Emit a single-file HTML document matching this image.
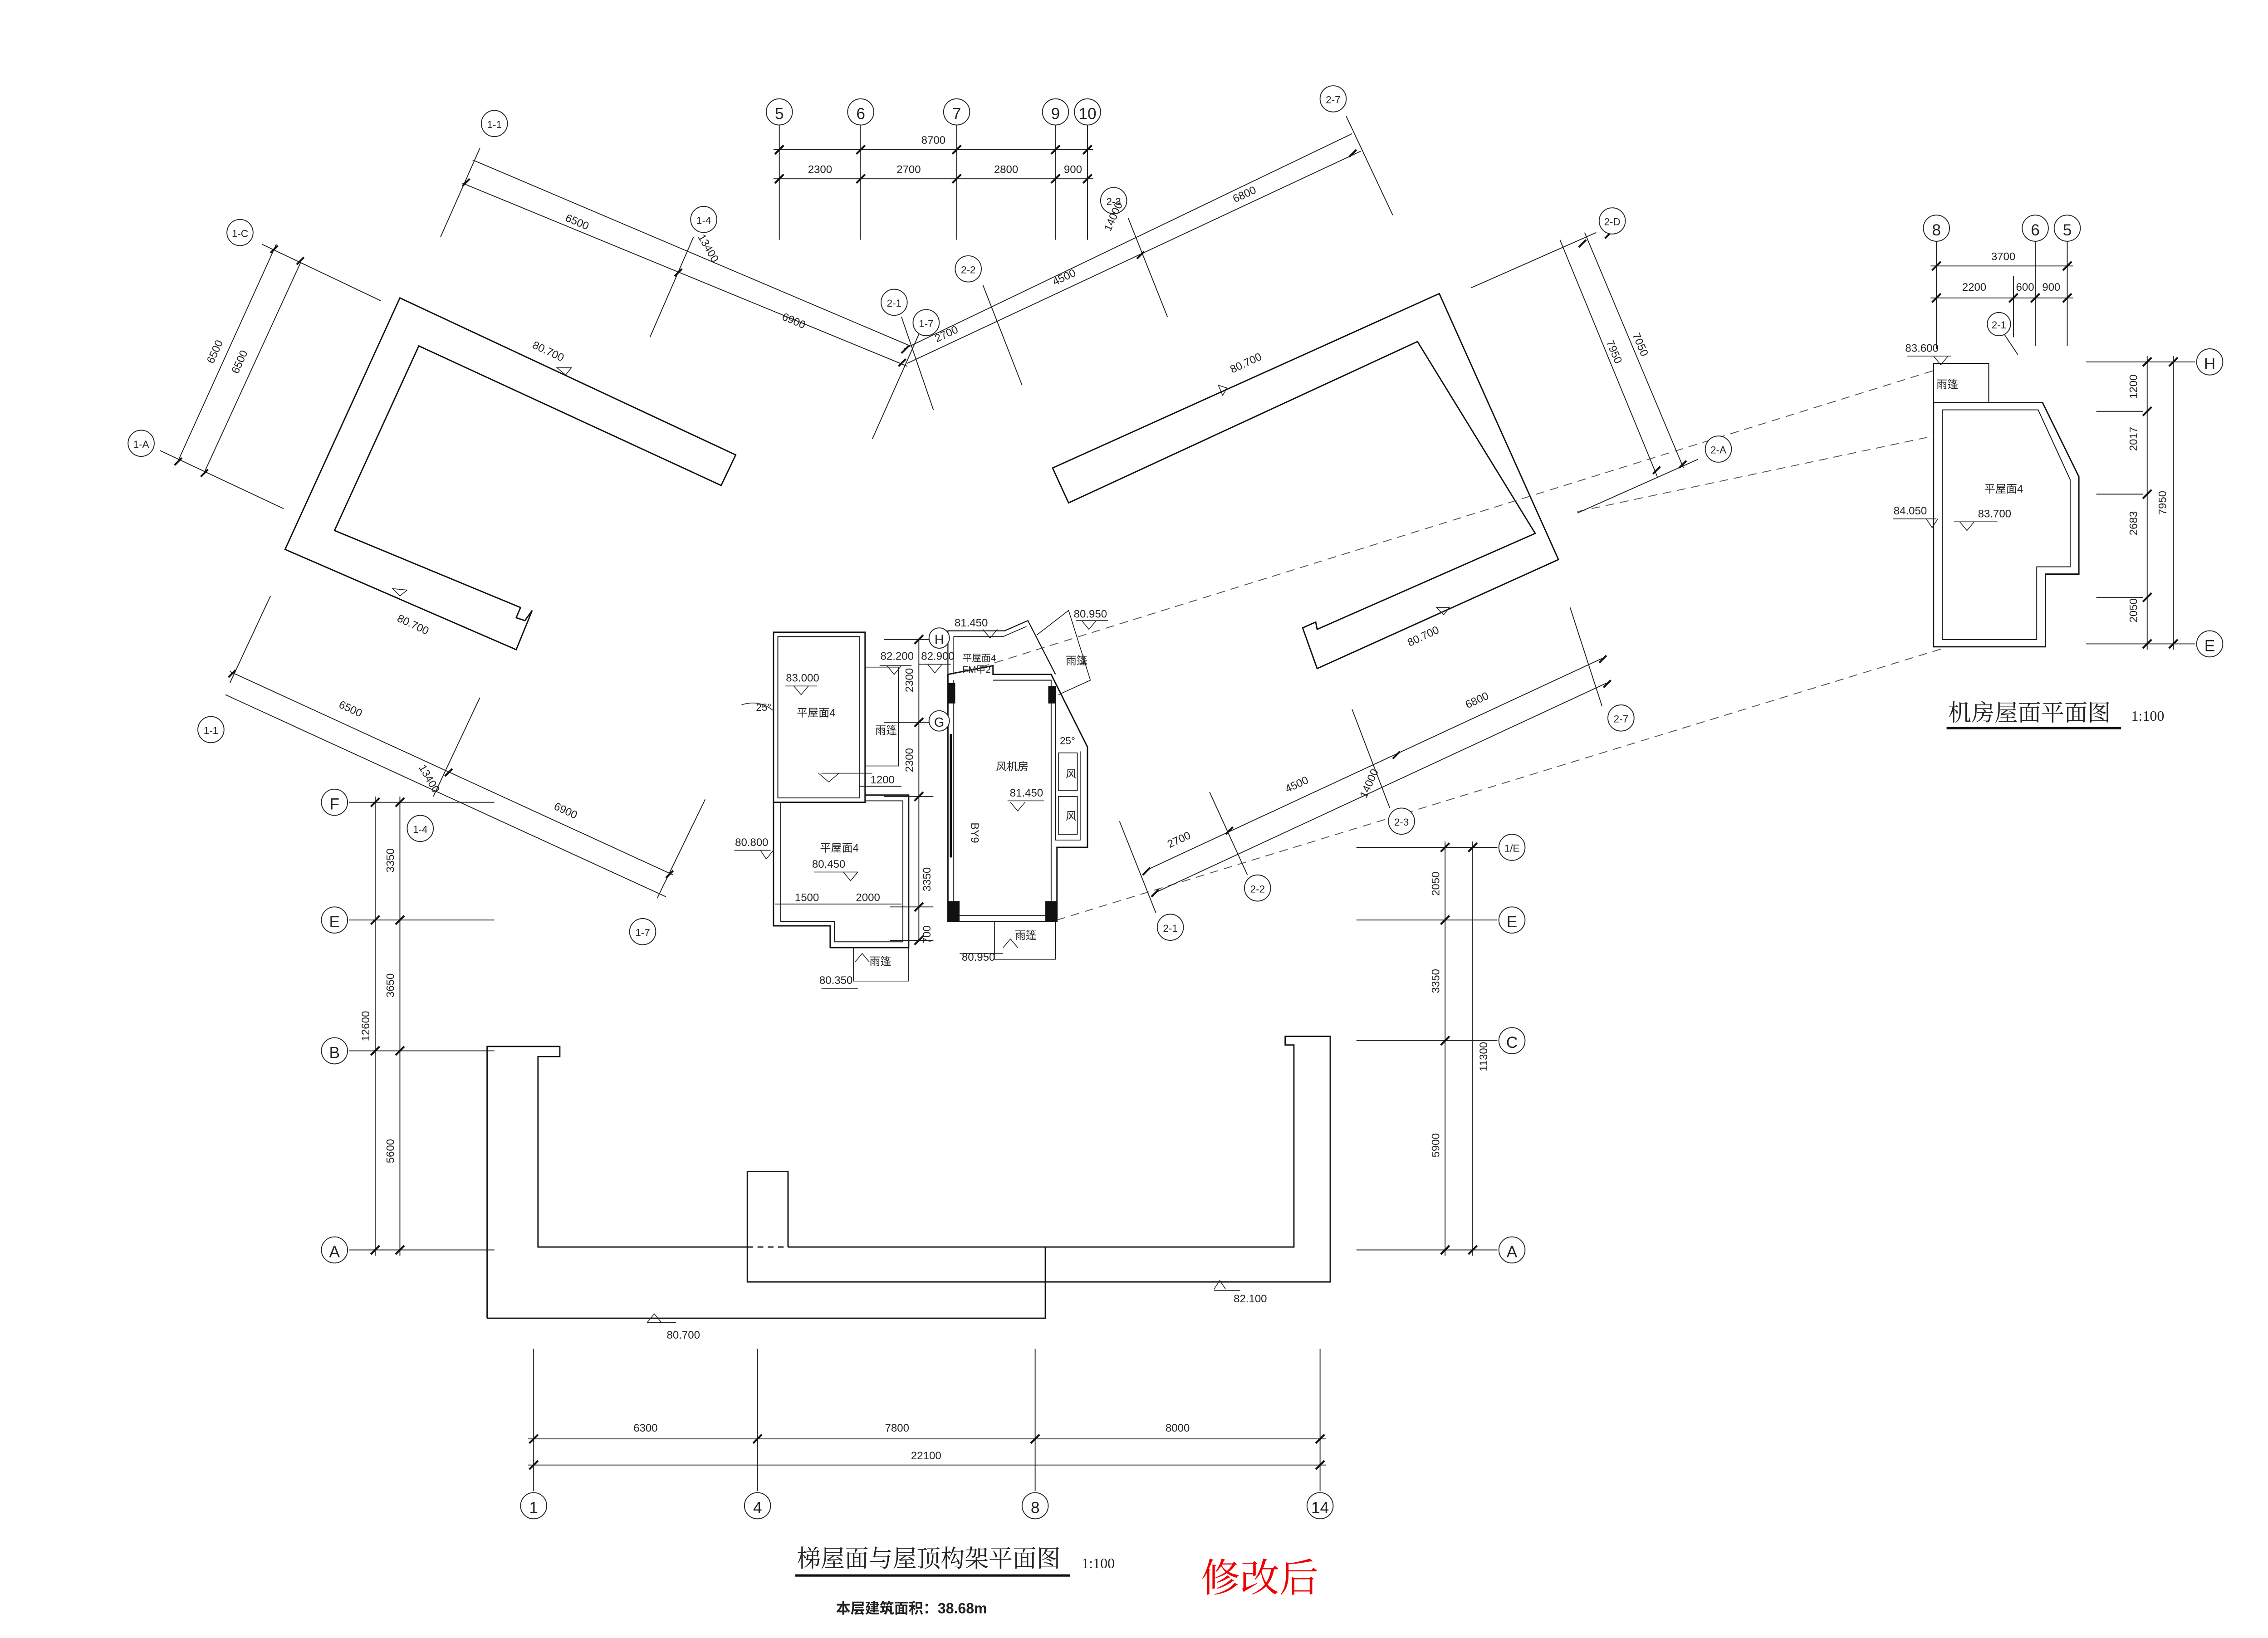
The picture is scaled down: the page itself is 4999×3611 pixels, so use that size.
<!DOCTYPE html>
<html><head><meta charset="utf-8"><style>
html,body{margin:0;padding:0;background:#fff}
svg{display:block}
text{font-family:"Liberation Sans","Noto Sans CJK SC",sans-serif;fill:#222}
</style></head><body>
<svg width="4999" height="3611" viewBox="0 0 1560 1127" xmlns="http://www.w3.org/2000/svg">
<rect width="1560" height="1127" fill="#fff"/>
<g fill="none" stroke="#111" stroke-width="0.9">
<polygon points="275,205 506,313 496,334 288,238 230,365 358,418 355,425 361,427 366,420 355,447 196,378"/>
<polygon points="990,202 1072,385 906,460 896,432 905,428 906,433 1056,367 975,235 735,346 724,322"/>
<polyline points="335,907 335,720 385,720 385,727 370,727 370,858 514,858"/>
<polyline points="542,858 890,858 890,719 884,719 884,713 915,713 915,882 514,882 514,806 542,806 542,858"/>
<line x1="514" y1="858" x2="542" y2="858" stroke-dasharray="4,3"/>
<polyline points="719,858 719,907 335,907"/>
<rect x="532" y="435" width="63" height="117"/>
<rect x="535" y="438" width="56" height="111" stroke-width="0.6"/>
<polyline points="532,552 532,637 571,637 571,652 625,652 625,547 595,547"/>
<polyline points="537,552 537,634 574,634 574,648 621,648 621,551 595,551" stroke-width="0.6"/>
<polyline points="595,459 618,459 618,527 595,527" stroke-width="0.5"/>
<polyline points="587,652 587,675 625,675 625,652" stroke-width="0.5"/>
<polygon points="652,464 652,634 727,634 727,583 748,583 748,514 723,464 683,464 683,458"/>
<polyline points="656,468 656,630 723,630 723,468 683,468" stroke-width="0.6"/>
<polyline points="652,464 652,434 691,434 707,427 726,464" stroke-width="0.7"/>
<polyline points="656,464 656,438 690,438 706,431" stroke-width="0.5"/>
<polyline points="726,472 726,578 743,578 743,517" stroke-width="0.5"/>
<rect x="728" y="518" width="13" height="26" stroke-width="0.5"/>
<rect x="728" y="548" width="13" height="26" stroke-width="0.5"/>
<line x1="654" y1="505" x2="654" y2="590" stroke-width="1.5"/>
<polyline points="684,634 684,660 726,660 726,634" stroke-width="0.5"/>
<polyline points="713,437 735,420 750,468 728,478" stroke-width="0.5"/>
<polygon points="1330,277 1405,277 1430,328 1430,395 1407,395 1407,445 1330,445"/>
<polygon points="1336,282 1402,282 1424,330 1424,390 1401,390 1401,440 1336,440" stroke-width="0.6"/>
<polyline points="1330,277 1330,250 1368,250 1368,277" stroke-width="0.6"/>
</g>
<g fill="#111">
<rect x="652" y="470" width="5" height="14"/><rect x="652" y="620" width="8" height="14"/>
<rect x="721" y="472" width="5" height="12"/><rect x="719" y="620" width="8" height="14"/>
</g>
<g stroke="#555" stroke-width="0.6" stroke-dasharray="6,4" fill="none">
<line x1="665" y1="462" x2="1330" y2="255"/>
<line x1="727" y1="633" x2="1337" y2="446"/>
<line x1="1085" y1="352" x2="1330" y2="300"/>
</g>
<g stroke="#222" stroke-width="0.6" fill="none">
<line x1="536" y1="86" x2="536" y2="165"/><line x1="592" y1="86" x2="592" y2="165"/><line x1="658" y1="86" x2="658" y2="165"/><line x1="726" y1="86" x2="726" y2="165"/><line x1="748" y1="86" x2="748" y2="165"/>
<line x1="532" y1="103" x2="752" y2="103"/><line x1="532" y1="123" x2="752" y2="123"/>
<line x1="318" y1="126" x2="624" y2="252"/><line x1="325" y1="110" x2="626" y2="238"/>
<line x1="330" y1="102" x2="303" y2="163"/><line x1="477" y1="163" x2="447" y2="232"/><line x1="632" y1="230" x2="600" y2="302"/>
<line x1="180" y1="168" x2="262" y2="207"/><line x1="110" y1="310" x2="195" y2="350"/>
<line x1="190" y1="168" x2="122" y2="318"/><line x1="207" y1="180" x2="140" y2="326"/>
<line x1="624" y1="250" x2="936" y2="104"/><line x1="622" y1="240" x2="930" y2="92"/>
<line x1="926" y1="80" x2="958" y2="148"/><line x1="776" y1="150" x2="803" y2="218"/><line x1="676" y1="196" x2="703" y2="265"/><line x1="620" y1="218" x2="642" y2="282"/>
<line x1="1098" y1="160" x2="1012" y2="198"/><line x1="1168" y1="316" x2="1085" y2="353"/>
<line x1="1073" y1="165" x2="1140" y2="328"/><line x1="1090" y1="160" x2="1158" y2="322"/>
<line x1="158" y1="462" x2="463" y2="602"/><line x1="155" y1="478" x2="458" y2="617"/>
<line x1="158" y1="470" x2="186" y2="410"/><line x1="298" y1="548" x2="330" y2="480"/><line x1="452" y1="618" x2="485" y2="550"/>
<line x1="790" y1="598" x2="1102" y2="453"/><line x1="795" y1="614" x2="1105" y2="470"/>
<line x1="1102" y1="486" x2="1080" y2="418"/><line x1="956" y1="556" x2="930" y2="488"/><line x1="858" y1="602" x2="832" y2="545"/><line x1="795" y1="628" x2="770" y2="565"/>
<line x1="240" y1="552" x2="340" y2="552"/><line x1="240" y1="633" x2="340" y2="633"/><line x1="240" y1="723" x2="340" y2="723"/><line x1="240" y1="860" x2="340" y2="860"/>
<line x1="258" y1="548" x2="258" y2="864"/><line x1="275" y1="548" x2="275" y2="864"/>
<line x1="933" y1="583" x2="1030" y2="583"/><line x1="933" y1="633" x2="1030" y2="633"/><line x1="933" y1="716" x2="1030" y2="716"/><line x1="933" y1="860" x2="1030" y2="860"/>
<line x1="994" y1="579" x2="994" y2="864"/><line x1="1013" y1="579" x2="1013" y2="864"/>
<line x1="367" y1="928" x2="367" y2="1026"/><line x1="521" y1="928" x2="521" y2="1026"/><line x1="712" y1="928" x2="712" y2="1026"/><line x1="908" y1="928" x2="908" y2="1026"/>
<line x1="363" y1="990" x2="912" y2="990"/><line x1="363" y1="1008" x2="912" y2="1008"/>
<line x1="632" y1="440" x2="632" y2="648"/><line x1="608" y1="440" x2="642" y2="440"/><line x1="608" y1="497" x2="642" y2="497"/><line x1="608" y1="548" x2="642" y2="548"/><line x1="612" y1="624" x2="642" y2="624"/><line x1="612" y1="647" x2="642" y2="647"/>
<line x1="591" y1="541" x2="620" y2="541"/><line x1="533" y1="622" x2="620" y2="622"/>
<line x1="1332" y1="165" x2="1332" y2="240"/><line x1="1400" y1="165" x2="1400" y2="238"/><line x1="1422" y1="165" x2="1422" y2="238"/><line x1="1385" y1="190" x2="1385" y2="232"/>
<line x1="1328" y1="183" x2="1426" y2="183"/><line x1="1328" y1="205" x2="1426" y2="205"/>
<line x1="1435" y1="249" x2="1510" y2="249"/><line x1="1435" y1="443" x2="1510" y2="443"/>
<line x1="1442" y1="283" x2="1474" y2="283"/><line x1="1442" y1="340" x2="1474" y2="340"/><line x1="1442" y1="411" x2="1474" y2="411"/>
<line x1="1477" y1="245" x2="1477" y2="447"/><line x1="1495" y1="245" x2="1495" y2="447"/>
<line x1="1378" y1="229" x2="1388" y2="244"/>
</g>
<g stroke="#111" stroke-width="1.3">
<path d="M533,106 l6,-6 M589,106 l6,-6 M655,106 l6,-6 M723,106 l6,-6 M745,106 l6,-6 M533,126 l6,-6 M589,126 l6,-6 M655,126 l6,-6 M723,126 l6,-6 M745,126 l6,-6"/>
<path d="M255,863 l6,-6 M255,726 l6,-6 M255,636 l6,-6 M255,555 l6,-6 M272,863 l6,-6 M272,726 l6,-6 M272,636 l6,-6 M272,555 l6,-6"/>
<path d="M991,863 l6,-6 M991,719 l6,-6 M991,636 l6,-6 M991,586 l6,-6 M1010,863 l6,-6 M1010,586 l6,-6"/>
<path d="M364,993 l6,-6 M518,993 l6,-6 M709,993 l6,-6 M905,993 l6,-6 M364,1011 l6,-6 M905,1011 l6,-6"/>
<path d="M629,443 l6,-6 M629,500 l6,-6 M629,551 l6,-6 M629,627 l6,-6 M629,650 l6,-6"/>
<path d="M1329,186 l6,-6 M1419,186 l6,-6 M1329,208 l6,-6 M1382,208 l6,-6 M1397,208 l6,-6 M1419,208 l6,-6"/>
<path d="M1474,252 l6,-6 M1474,286 l6,-6 M1474,343 l6,-6 M1474,414 l6,-6 M1474,446 l6,-6 M1492,252 l6,-6 M1492,446 l6,-6"/>
<path d="M318,128 l5,-5 M464,190 l5,-5 M618,252 l5,-5 M782,178 l5,-5 M928,108 l5,-5 M620,243 l5,-5 M186,174 l5,-5 M120,320 l5,-5 M204,182 l5,-5 M138,328 l5,-5 M1086,170 l5,-5 M1137,326 l5,-5 M1155,322 l5,-5 M1104,164 l5,-5 M157,466 l5,-5 M306,534 l5,-5 M458,604 l5,-5 M786,602 l5,-5 M843,574 l5,-5 M958,522 l5,-5 M1100,456 l5,-5 M792,617 l5,-5 M1103,473 l5,-5"/>
</g>
<g fill="#fff" stroke="#222" stroke-width="0.6">
<circle cx="536" cy="77" r="9"/><circle cx="592" cy="77" r="9"/><circle cx="658" cy="77" r="9"/><circle cx="726" cy="77" r="9"/><circle cx="748" cy="77" r="9"/>
<circle cx="340" cy="85" r="9"/><circle cx="484" cy="151" r="9"/><circle cx="637" cy="222" r="9"/><circle cx="165" cy="160" r="9"/><circle cx="97" cy="305" r="9"/>
<circle cx="917" cy="68" r="9"/><circle cx="766" cy="138" r="9"/><circle cx="666" cy="185" r="9"/><circle cx="615" cy="208" r="9"/><circle cx="1109" cy="152" r="9"/><circle cx="1182" cy="309" r="9"/>
<circle cx="145" cy="502" r="9"/><circle cx="289" cy="570" r="9"/><circle cx="442" cy="641" r="9"/>
<circle cx="1115" cy="494" r="9"/><circle cx="964" cy="565" r="9"/><circle cx="865" cy="611" r="9"/><circle cx="805" cy="638" r="9"/>
<circle cx="230" cy="552" r="9"/><circle cx="230" cy="633" r="9"/><circle cx="230" cy="723" r="9"/><circle cx="230" cy="860" r="9"/>
<circle cx="1040" cy="583" r="9"/><circle cx="1040" cy="633" r="9"/><circle cx="1040" cy="716" r="9"/><circle cx="1040" cy="860" r="9"/>
<circle cx="367" cy="1036" r="9"/><circle cx="521" cy="1036" r="9"/><circle cx="712" cy="1036" r="9"/><circle cx="908" cy="1036" r="9"/>
<circle cx="1332" cy="157" r="9"/><circle cx="1400" cy="157" r="9"/><circle cx="1422" cy="157" r="9"/><circle cx="1375" cy="223" r="8"/>
<circle cx="1520" cy="249" r="9"/><circle cx="1520" cy="443" r="9"/>
<circle cx="646" cy="439" r="7"/><circle cx="646" cy="496" r="7"/>
</g>
<g font-size="11" text-anchor="middle" style="font-family:'Liberation Serif',serif">
<text x="536" y="82">5</text><text x="592" y="82">6</text><text x="658" y="82">7</text><text x="726" y="82">9</text><text x="748" y="82">10</text>
<text x="367" y="1041">1</text><text x="521" y="1041">4</text><text x="712" y="1041">8</text><text x="908" y="1041">14</text>
<text x="230" y="557">F</text><text x="230" y="638">E</text><text x="230" y="728">B</text><text x="230" y="865">A</text>
<text x="1040" y="638">E</text><text x="1040" y="721">C</text><text x="1040" y="865">A</text>
<text x="1332" y="162">8</text><text x="1400" y="162">6</text><text x="1422" y="162">5</text>
<text x="1520" y="254">H</text><text x="1520" y="448">E</text>
<text x="646" y="443" font-size="9">H</text><text x="646" y="500" font-size="9">G</text>
</g>
<g font-size="7" text-anchor="middle">
<text x="340" y="88">1-1</text><text x="484" y="154">1-4</text><text x="637" y="225">1-7</text><text x="165" y="163">1-C</text><text x="97" y="308">1-A</text>
<text x="917" y="71">2-7</text><text x="766" y="141">2-3</text><text x="666" y="188">2-2</text><text x="615" y="211">2-1</text><text x="1109" y="155">2-D</text><text x="1182" y="312">2-A</text>
<text x="145" y="505">1-1</text><text x="289" y="573">1-4</text><text x="442" y="644">1-7</text>
<text x="1115" y="497">2-7</text><text x="964" y="568">2-3</text><text x="865" y="614">2-2</text><text x="805" y="641">2-1</text>
<text x="1040" y="586">1/E</text><text x="1375" y="226">2-1</text>
</g>
<g font-size="7.5" text-anchor="middle">
<text x="642" y="99">8700</text><text x="564" y="119">2300</text><text x="625" y="119">2700</text><text x="692" y="119">2800</text><text x="738" y="119">900</text>
<text x="444" y="985">6300</text><text x="617" y="985">7800</text><text x="810" y="985">8000</text><text x="637" y="1004">22100</text>
<text x="1378" y="179">3700</text><text x="1358" y="200">2200</text><text x="1393" y="200">600</text><text x="1411" y="200">900</text>
<text x="552" y="469">83.000</text><text x="617" y="454">82.200</text><text x="645" y="454">82.900</text><text x="668" y="431">81.450</text><text x="750" y="425">80.950</text>
<text x="706" y="548">81.450</text><text x="517" y="582">80.800</text><text x="570" y="597">80.450</text><text x="575" y="677">80.350</text><text x="673" y="661">80.950</text>
<text x="1322" y="242">83.600</text><text x="1314" y="354">84.050</text><text x="1372" y="356">83.700</text>
<text x="607" y="539">1200</text><text x="555" y="620">1500</text><text x="597" y="620">2000</text>
<text x="860" y="896">82.100</text><text x="470" y="921">80.700</text>
</g>
<g font-size="7.5" text-anchor="middle">
<text transform="translate(271,592) rotate(-90)">3350</text><text transform="translate(271,678) rotate(-90)">3650</text><text transform="translate(254,706) rotate(-90)">12600</text><text transform="translate(271,792) rotate(-90)">5600</text>
<text transform="translate(990,608) rotate(-90)">2050</text><text transform="translate(990,675) rotate(-90)">3350</text><text transform="translate(1023,727) rotate(-90)">11300</text><text transform="translate(990,788) rotate(-90)">5900</text>
<text transform="translate(628,468) rotate(-90)">2300</text><text transform="translate(628,523) rotate(-90)">2300</text><text transform="translate(640,605) rotate(-90)">3350</text><text transform="translate(640,643) rotate(-90)">700</text>
<text transform="translate(668,573) rotate(90)">BY9</text>
<text transform="translate(1470,266) rotate(-90)">1200</text><text transform="translate(1470,302) rotate(-90)">2017</text><text transform="translate(1470,360) rotate(-90)">2683</text><text transform="translate(1470,420) rotate(-90)">2050</text><text transform="translate(1490,346) rotate(-90)">7950</text>
<text transform="translate(396,155) rotate(23)">6500</text><text transform="translate(485,172) rotate(60)">13400</text><text transform="translate(545,223) rotate(23)">6900</text>
<text transform="translate(150,243) rotate(-66)">6500</text><text transform="translate(167,250) rotate(-66)">6500</text>
<text transform="translate(733,193) rotate(-25)">4500</text><text transform="translate(652,232) rotate(-25)">2700</text><text transform="translate(857,136) rotate(-25)">6800</text><text transform="translate(768,150) rotate(-66)">14000</text>
<text transform="translate(1108,243) rotate(67)">7950</text><text transform="translate(1126,238) rotate(67)">7050</text>
<text transform="translate(240,490) rotate(25)">6500</text><text transform="translate(293,537) rotate(60)">13400</text><text transform="translate(388,560) rotate(25)">6900</text>
<text transform="translate(812,580) rotate(-25)">2700</text><text transform="translate(893,542) rotate(-25)">4500</text><text transform="translate(1017,484) rotate(-25)">6800</text><text transform="translate(944,540) rotate(-66)">14000</text>
<text transform="translate(376,244) rotate(25)">80.700</text><text transform="translate(283,432) rotate(25)">80.700</text>
<text transform="translate(858,252) rotate(-25)">80.700</text><text transform="translate(980,440) rotate(-25)">80.700</text>
</g>
<g fill="none" stroke="#222" stroke-width="0.5">
<path d="M540,472 h22 M546,472 l5,6 l5,-6"/><path d="M605,458 h22 M610,458 l5,6 l5,-6"/><path d="M632,457 h22 M638,457 l5,6 l5,-6"/>
<path d="M660,434 h20 M676,433 l5,6 l5,-6"/><path d="M740,427 h22 M744,427 l5,6 l5,-6"/><path d="M693,551 h25 M695,552 l5,6 l5,-6"/>
<path d="M505,585 h25 M523,585 l4,6 l5,-6"/><path d="M560,600 h30 M580,600 l5,6 l5,-6"/><path d="M565,532 h35 M563,532 l7,6 l7,-6"/>
<path d="M565,680 h25 M598,662 l-5,-6 l-5,6"/><path d="M660,656 h30 M700,652 l-5,-6 l-5,6"/>
<path d="M1312,245 h30 M1340,245 l-5,6 l-5,-6"/><path d="M1302,357 h30 M1325,357 l4,6 l4,-6"/><path d="M1344,359 h30 M1348,359 l5,6 l5,-6"/>
<path d="M835,888 h18 M835,887 l4,-6 l4,6"/><path d="M445,910 h20 M445,910 l5,-6 l5,6"/>
<path d="M383,253 l6,5 l4,-5z"/><path d="M270,405 l5,5 l5,-4z"/><path d="M838,265 l6,2 l-3,5z"/><path d="M988,418 l5,5 l4,-5z"/>
<path d="M510,485 q12,-4 22,4"/>
</g>
<g font-size="7.5">
<text x="548" y="493">平屋面4</text><text x="602" y="505">雨篷</text><text x="564" y="586">平屋面4</text><text x="598" y="664">雨篷</text>
<text x="685" y="530">风机房</text><text x="733" y="457">雨篷</text><text x="698" y="646">雨篷</text><text x="662" y="455" font-size="6.5">平屋面4</text><text x="662" y="463" font-size="6.5">FM甲2</text>
<text x="733" y="535">风</text><text x="733" y="564">风</text><text x="1332" y="267">雨篷</text><text x="1365" y="339">平屋面4</text>
<text x="520" y="489" font-size="7">25°</text><text x="729" y="512" font-size="7">25°</text>
</g>
<text x="548" y="1078" font-size="16.5" style="font-family:'Noto Serif CJK SC','Noto Sans CJK SC',serif">梯屋面与屋顶构架平面图</text>
<line x1="547" y1="1084" x2="736" y2="1084" stroke="#111" stroke-width="1.6"/>
<text x="744" y="1079" font-size="10" style="font-family:'Liberation Serif',serif">1:100</text>
<text x="575" y="1110" font-size="10" font-weight="bold">本层建筑面积：38.68m</text>
<text x="826" y="1095" font-size="27" style="fill:#e00;font-family:'Noto Serif CJK SC',serif">修改后</text>
<text x="1340" y="496" font-size="16" style="font-family:'Noto Serif CJK SC','Noto Sans CJK SC',serif">机房屋面平面图</text>
<line x1="1339" y1="501" x2="1459" y2="501" stroke="#111" stroke-width="1.6"/>
<text x="1466" y="496" font-size="10" style="font-family:'Liberation Serif',serif">1:100</text>
</svg>
</body></html>
